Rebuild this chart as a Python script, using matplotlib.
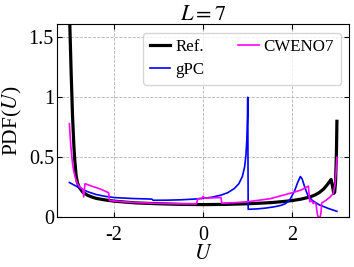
import matplotlib
matplotlib.use("Agg")
import matplotlib.pyplot as plt

plt.rcParams['font.family'] = ['Liberation Serif', 'DejaVu Serif']
plt.rcParams['mathtext.fontset'] = 'stix'
plt.rcParams['axes.unicode_minus'] = False

# Reference PDF (black)
ref_u = [-3.0, -2.99, -2.96, -2.93, -2.9, -2.88, -2.85, -2.82, -2.78, -2.7, -2.6, -2.5,
         -2.4, -2.2, -2.0, -1.75, -1.5, -1.0, -0.5, 0.0, 0.5, 1.0, 1.5, 1.75, 2.0, 2.2,
         2.4, 2.5, 2.6, 2.7, 2.78, 2.84, 2.87, 2.9, 2.93, 2.95, 2.97, 2.99, 3.0]
ref_pdf = [1.75, 1.6, 1.2, 0.85, 0.6, 0.48, 0.35, 0.29, 0.25, 0.21, 0.185, 0.17,
           0.158, 0.145, 0.135, 0.127, 0.12, 0.113, 0.108, 0.106, 0.108, 0.113, 0.122, 0.13, 0.14, 0.152,
           0.17, 0.185, 0.205, 0.235, 0.27, 0.3, 0.315, 0.26, 0.2, 0.21, 0.3, 0.55, 0.8]

# gPC (blue)
gpc_u = [-3.0, -2.8, -2.6, -2.4, -2.2, -2.0, -1.6, -1.15, -1.12, -0.8, -0.5, -0.2, 0.0,
         0.2, 0.4, 0.55, 0.7, 0.8, 0.88, 0.93, 0.96, 0.98, 0.995, 1.0, 1.01, 1.2, 1.4,
         1.6, 1.75, 1.85, 1.95, 2.05, 2.12, 2.18, 2.22, 2.28, 2.35, 2.45, 2.6, 2.8, 3.0]
gpc_pdf = [0.29, 0.25, 0.215, 0.19, 0.175, 0.165, 0.157, 0.152, 0.142, 0.143, 0.146, 0.152, 0.158,
           0.168, 0.185, 0.205, 0.24, 0.28, 0.34, 0.42, 0.52, 0.65, 0.85, 1.0, 0.067, 0.07, 0.077,
           0.088, 0.1, 0.115, 0.15, 0.22, 0.29, 0.34, 0.32, 0.25, 0.18, 0.14, 0.105, 0.075, 0.05]

# CWENO7 (magenta)
cw_u = [-3.0, -2.97, -2.93, -2.9, -2.86, -2.82, -2.76, -2.7, -2.68, -2.65, -2.5, -2.3,
        -2.15, -2.12, -2.1, -1.8, -1.5, -1.0, -0.5, -0.15, -0.12, -0.03, 0.0, 0.03, 0.2,
        0.4, 0.42, 0.7, 1.0, 1.5, 2.0, 2.2, 2.36, 2.39, 2.43, 2.47, 2.5, 2.53, 2.56,
        2.58, 2.62, 2.64, 2.66, 2.75, 2.85, 2.92, 2.96, 2.98, 3.0]
cw_pdf = [0.78, 0.6, 0.45, 0.38, 0.32, 0.28, 0.25, 0.235, 0.17, 0.28, 0.26, 0.235,
          0.21, 0.205, 0.14, 0.13, 0.123, 0.116, 0.112, 0.112, 0.155, 0.158, 0.175, 0.16, 0.162,
          0.165, 0.118, 0.122, 0.13, 0.155, 0.205, 0.228, 0.26, 0.13, 0.14, 0.115, 0.125, 0.115, 0.03,
          0.0, 0.0, 0.03, 0.12, 0.14, 0.17, 0.2, 0.28, 0.38, 0.5]

fig = plt.figure(figsize=(3.54, 2.67), dpi=100)
ax = fig.add_axes([0.162, 0.186, 0.825, 0.724])

ax.plot(ref_u, ref_pdf, color='black', lw=2.3, label='Ref.')
ax.plot(gpc_u, gpc_pdf, color='#0000ff', lw=1.2, label='gPC')
ax.plot(cw_u, cw_pdf, color='#ff00ff', lw=1.2, label='CWENO7')

ax.set_xlim(-3.27, 3.28)
ax.set_ylim(0, 1.61)
ax.set_xticks([-2, 0, 2])
ax.set_xticklabels(['-2', '0', '2'])
ax.set_yticks([0, 0.5, 1, 1.5])
ax.set_yticklabels(['0', '0.5', '1', '1.5'])
ax.tick_params(direction='in', top=True, right=True, labelsize=14.5, length=3.5)
ax.tick_params(axis='x', pad=6)
ax.tick_params(axis='y', pad=2.5)
ax.grid(True, color='#a0a0a0', linestyle='--', linewidth=0.6, alpha=0.8)

ax.set_xlabel('$U$', fontsize=15.5, labelpad=0)
ax.set_ylabel('PDF($U$)', fontsize=15.5, labelpad=3)
ax.set_title('$L=7$', fontsize=16, pad=3)

ax.legend(loc='upper right', ncol=2, fontsize=12.2, handlelength=1.2,
          handletextpad=0.3, columnspacing=2.0, labelspacing=0.4, borderaxespad=0.5)

fig.savefig('out.png', dpi=100)
